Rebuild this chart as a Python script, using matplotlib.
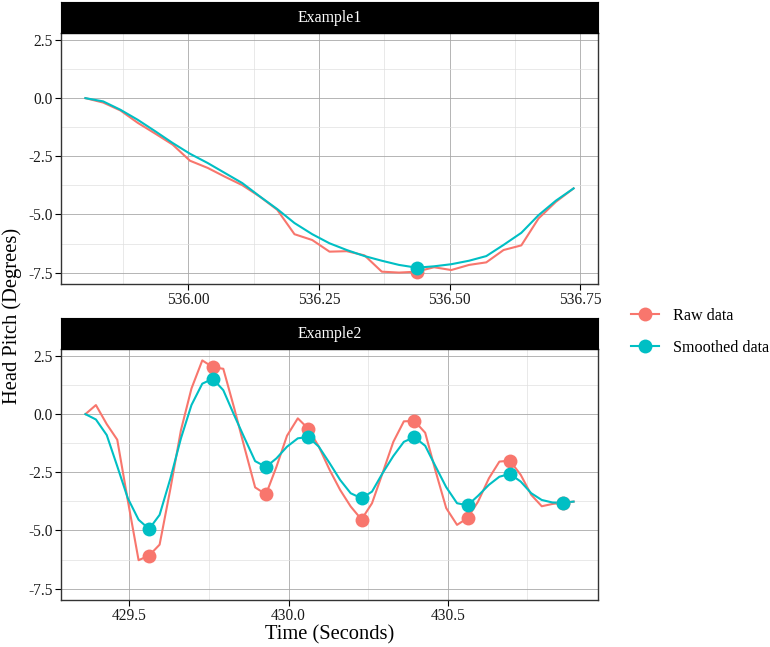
import numpy as np
import matplotlib.pyplot as plt
from matplotlib.lines import Line2D
from matplotlib.ticker import MultipleLocator, FormatStrFormatter

plt.rcParams['font.family'] = ['Liberation Serif', 'DejaVu Serif']
plt.rcParams['axes.unicode_minus'] = False

# ---- data ----
panel_names = ['Example1', 'Example2']

time1 = [535.803, 535.837, 535.870, 535.903, 535.937, 535.970, 536.003, 536.037,
         536.070, 536.103, 536.137, 536.170, 536.203, 536.237, 536.270, 536.303,
         536.337, 536.370, 536.403, 536.437, 536.470, 536.503, 536.537, 536.570,
         536.603, 536.637, 536.670, 536.703, 536.737]
raw1 = [0.0, -0.19, -0.53, -1.06, -1.53, -2.0, -2.69, -3.0, -3.38, -3.74, -4.24,
        -4.8, -5.85, -6.1, -6.6, -6.58, -6.76, -7.46, -7.5, -7.46, -7.27, -7.39,
        -7.17, -7.06, -6.53, -6.33, -5.17, -4.46, -3.88]
smooth1 = [0.0, -0.14, -0.5, -0.93, -1.43, -1.93, -2.39, -2.79, -3.22, -3.65,
           -4.23, -4.77, -5.37, -5.85, -6.24, -6.53, -6.79, -6.99, -7.17, -7.29,
           -7.23, -7.14, -6.99, -6.79, -6.31, -5.79, -5.03, -4.41, -3.88]
peaks1 = [19]

time2 = [429.362, 429.395, 429.429, 429.462, 429.495, 429.529, 429.562, 429.595,
         429.629, 429.662, 429.695, 429.729, 429.762, 429.795, 429.829, 429.862,
         429.895, 429.929, 429.962, 429.995, 430.029, 430.062, 430.095, 430.129,
         430.162, 430.195, 430.229, 430.262, 430.295, 430.329, 430.362, 430.395,
         430.429, 430.462, 430.495, 430.529, 430.562, 430.595, 430.629, 430.662,
         430.695, 430.729, 430.762, 430.795, 430.829, 430.862, 430.895]
raw2 = [0.0, 0.39, -0.43, -1.1, -3.7, -6.28, -6.08, -5.61, -3.2, -0.69, 1.1,
        2.31, 2.02, 1.95, 0.27, -1.46, -3.15, -3.45, -2.26, -0.93, -0.18, -0.63,
        -1.4, -2.4, -3.26, -3.97, -4.53, -3.83, -2.54, -1.19, -0.31, -0.29, -0.8,
        -2.47, -4.04, -4.76, -4.47, -3.76, -2.76, -2.04, -2.0, -2.61, -3.47,
        -3.96, -3.86, -3.81, -3.76]
smooth2 = [0.0, -0.23, -0.9, -2.24, -3.61, -4.54, -4.94, -4.33, -2.76, -1.04,
           0.39, 1.31, 1.52, 1.03, -0.04, -1.04, -2.02, -2.27, -1.9, -1.4, -1.04,
           -0.98, -1.4, -2.11, -2.83, -3.4, -3.62, -3.33, -2.54, -1.8, -1.19,
           -0.99, -1.36, -2.26, -3.14, -3.83, -3.92, -3.51, -3.04, -2.69, -2.57,
           -2.9, -3.4, -3.69, -3.8, -3.81, -3.76]
peaks2 = [6, 12, 17, 21, 26, 31, 36, 40, 45]

series_labels = ['Raw data', 'Smoothed data']
RED = '#F8766D'
CYAN = '#00BFC4'

# ---- layout (pixels) ----
W, H = 770, 647
fig = plt.figure(figsize=(W / 100, H / 100), dpi=100)


def box(l, t, r, b):
    return [l / W, 1 - b / H, (r - l) / W, (b - t) / H]


# shared y range, ggplot style 5% expansion
all_y = np.array(raw1 + smooth1 + raw2 + smooth2)
ypad = 0.05 * (all_y.max() - all_y.min())
ylim = (all_y.min() - ypad, all_y.max() + ypad)

panels = [
    (time1, raw1, smooth1, peaks1, 2, 33, 284, 0.25, 0.125, '%.2f'),
    (time2, raw2, smooth2, peaks2, 318, 349, 600, 0.5, 0.25, '%.1f'),
]

for k, (t, r, s, pk, strip_top, top, bottom, xmaj, xmin_, fmt) in enumerate(panels):
    t = np.array(t)
    r = np.array(r)
    s = np.array(s)

    ax = fig.add_axes(box(61, top, 598, bottom))
    ax.plot(t, r, color=RED, lw=1.5, zorder=3)
    ax.plot(t, s, color=CYAN, lw=1.5, zorder=3)
    ax.plot(t[pk], r[pk], 'o', color=RED, ms=10, mew=0, zorder=4)
    ax.plot(t[pk], s[pk], 'o', color=CYAN, ms=10, mew=0, zorder=4)

    xpad = 0.05 * (t.max() - t.min())
    ax.set_xlim(t.min() - xpad, t.max() + xpad)
    ax.set_ylim(ylim)

    ax.xaxis.set_major_locator(MultipleLocator(xmaj))
    ax.xaxis.set_minor_locator(MultipleLocator(xmin_))
    ax.xaxis.set_major_formatter(FormatStrFormatter(fmt))
    ax.yaxis.set_major_locator(MultipleLocator(2.5))
    ax.yaxis.set_minor_locator(MultipleLocator(1.25))
    ax.yaxis.set_major_formatter(FormatStrFormatter('%.1f'))

    ax.set_axisbelow(True)
    ax.grid(which='major', color='#a8a8a8', lw=0.6)
    ax.grid(which='minor', color='#e0e0e0', lw=0.5)
    ax.tick_params(which='major', direction='out', length=4, width=0.8,
                   color='black', labelsize=11.2, labelcolor='#1a1a1a', pad=2)
    ax.tick_params(which='minor', length=0)
    for sp in ax.spines.values():
        sp.set_color('#333333')
        sp.set_linewidth(1.0)

    sax = fig.add_axes(box(61, strip_top, 598, top))
    sax.set_facecolor('black')
    sax.set_xticks([])
    sax.set_yticks([])
    for sp in sax.spines.values():
        sp.set_color('black')
    sax.text(0.5, 0.5, panel_names[k], color='white', fontsize=11.4,
             ha='center', va='center', transform=sax.transAxes)

fig.text(329.5 / W, 1 - 635 / H, 'Time (Seconds)', fontsize=14.8,
         ha='center', va='center')
fig.text(12 / W, 1 - 316 / H, 'Head Pitch (Degrees)', fontsize=14.8,
         rotation=90, ha='center', va='center')

handles = [Line2D([], [], color=c, lw=1.5, marker='o', ms=10, mew=0)
           for c in (RED, CYAN)]
fig.legend(handles, series_labels, loc='center left',
           bbox_to_anchor=(631 / W, 1 - 332 / H), frameon=False,
           fontsize=11.6, handlelength=1.75, handletextpad=0.85,
           labelspacing=1.0, borderpad=0, borderaxespad=0)

fig.savefig('out.png', dpi=100)
